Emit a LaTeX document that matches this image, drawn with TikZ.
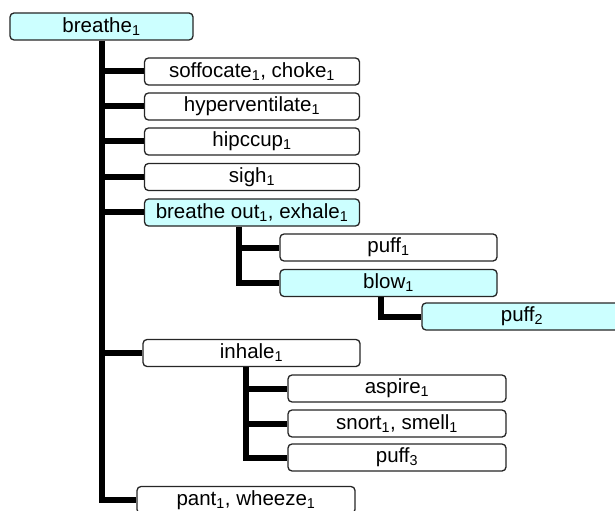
\documentclass[tikz,border=0pt]{standalone}
\usepackage{fontspec}
\setmainfont{Liberation Sans}
\newcommand\ix[1]{\textsubscript{#1}}
\definecolor{pale}{HTML}{CCFFFF}
\tikzset{
  syn/.style={draw=black!85, line width=1.3bp, rounded corners=4bp, fill=white,
    minimum height=27bp, inner sep=0pt, font=\fontsize{20.5bp}{22bp}\selectfont},
  hi/.style={syn, fill=pale},
  link/.style={line width=6bp}
}
\begin{document}
\begin{tikzpicture}[x=1bp,y=-1bp]
\useasboundingbox (0,0) rectangle (615,511);
\clip (0,0) rectangle (615,511);
% synsets
\node[hi, minimum width=183bp] (breathe) at (101.5,26.5) {breathe\ix1};
\node[syn, minimum width=215bp] (choke) at (252,71.5) {soffocate\ix1, choke\ix1};
\node[syn, minimum width=215bp] (hyper) at (252,106.5) {hyperventilate\ix1};
\node[syn, minimum width=215bp] (hiccup) at (252,141.5) {hipccup\ix1};
\node[syn, minimum width=215bp] (sigh) at (252,177) {sigh\ix1};
\node[hi, minimum width=215bp] (exhale) at (252,212.5) {breathe out\ix1, exhale\ix1};
\node[syn, minimum width=217bp] (puffa) at (388.5,247.5) {puff\ix1};
\node[hi, minimum width=217bp] (blow) at (388.5,283) {blow\ix1};
\node[hi, minimum width=200bp] (puffb) at (522,316.5) {puff\ix2};
\node[syn, minimum width=217bp] (inhale) at (251.5,353) {inhale\ix1};
\node[syn, minimum width=218bp] (aspire) at (397,388.5) {aspire\ix1};
\node[syn, minimum width=218bp] (snort) at (397,423.5) {snort\ix1, smell\ix1};
\node[syn, minimum width=218bp] (puffc) at (397,457.5) {puff\ix3};
\node[syn, minimum width=218bp] (pant) at (246,500) {pant\ix1, wheeze\ix1};
% tree links
\draw[link] (breathe.south) |- (pant.west);
\foreach \n in {choke,hyper,hiccup,sigh,exhale,inhale}
  \draw[link] (\n.west) -- (\n.west -| breathe.south);
\draw[link] ([xshift=95bp]exhale.south west) coordinate (ex) |- (blow.west);
\draw[link] (ex |- puffa.west) -- (puffa.west);
\draw[link] ([xshift=102bp]blow.south west) |- (puffb.west);
\draw[link] ([xshift=104bp]inhale.south west) coordinate (in) |- (puffc.west);
\draw[link] (in |- aspire.west) -- (aspire.west); \draw[link] (in |- snort.west) -- (snort.west);
\end{tikzpicture}
\end{document}
